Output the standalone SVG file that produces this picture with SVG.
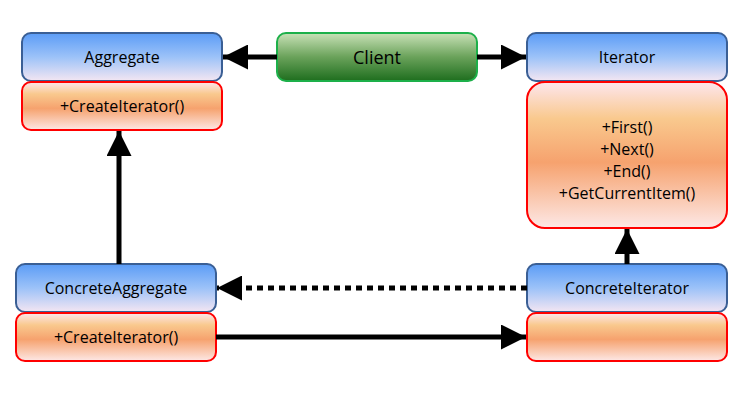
<svg xmlns="http://www.w3.org/2000/svg" width="740" height="401" viewBox="0 0 740 401">
<defs>
<linearGradient id="gb" x1="0" y1="0" x2="0" y2="1"><stop offset="0" stop-color="#5b9cf6"/><stop offset="0.5" stop-color="#9cc2f8"/><stop offset="1" stop-color="#f4e6f2"/></linearGradient>
<linearGradient id="go" x1="0" y1="0" x2="0" y2="1"><stop offset="0" stop-color="#fde6ee"/><stop offset="0.25" stop-color="#f9c98e"/><stop offset="0.55" stop-color="#f6a26e"/><stop offset="1" stop-color="#fde8e6"/></linearGradient>
<linearGradient id="gg" x1="0" y1="0" x2="0" y2="1"><stop offset="0" stop-color="#c9e2b8"/><stop offset="0.5" stop-color="#6aa25a"/><stop offset="1" stop-color="#1e6e1e"/></linearGradient>
<marker id="ah" viewBox="0 0 10 10" refX="10" refY="5" markerWidth="5" markerHeight="5" orient="auto" markerUnits="strokeWidth"><path d="M0,0L10,5L0,10z" fill="#000"/></marker>
</defs>
<style>
.h{fill:url(#gb);stroke:#3a5f95;stroke-width:2}
.m{fill:url(#go);stroke:#ff0000;stroke-width:2}
.c{fill:url(#gg);stroke:#1db04a;stroke-width:2}
text{font-family:"Open Sans","Noto Sans",sans-serif;font-size:16px;text-anchor:middle;fill:#000}
.l{stroke:#000;stroke-width:5;fill:none;marker-end:url(#ah)}
</style>
<rect width="740" height="401" fill="#fff"/>
<g id="aggregate"><rect class="h" x="22" y="33" width="200" height="48" rx="9"/><text x="122" y="63">Aggregate</text>
<rect class="m" x="22" y="82" width="200" height="48" rx="9"/><text x="122" y="112">+CreateIterator()</text></g>
<g id="client"><rect class="c" x="277" y="33" width="200" height="48" rx="9"/><text x="377" y="64" font-size="18" style="font-size:18px">Client</text></g>
<g id="iterator"><rect class="h" x="527" y="33" width="200" height="48" rx="9"/><text x="627" y="63">Iterator</text>
<rect class="m" x="527" y="82" width="200" height="146" rx="18"/><text x="627" y="133">+First()</text><text x="627" y="155">+Next()</text><text x="627" y="177">+End()</text><text x="627" y="199">+GetCurrentItem()</text></g>
<g id="concreteaggregate"><rect class="h" x="16" y="264" width="200" height="48" rx="9"/><text x="116" y="294">ConcreteAggregate</text>
<rect class="m" x="16" y="313" width="200" height="48" rx="9"/><text x="116" y="343">+CreateIterator()</text></g>
<g id="concreteiterator"><rect class="h" x="527" y="264" width="200" height="48" rx="9"/><text x="627" y="294">ConcreteIterator</text>
<rect class="m" x="527" y="313" width="200" height="48" rx="9"/></g>
<g id="connectors">
<line class="l" x1="277" y1="57" x2="223" y2="57"/>
<line class="l" x1="477" y1="57" x2="526" y2="57"/>
<line class="l" x1="119" y1="264" x2="119" y2="131"/>
<line class="l" x1="627" y1="264" x2="627" y2="229"/>
<line class="l" x1="527" y1="288" x2="217" y2="288" stroke-dasharray="6,5"/>
<line class="l" x1="216" y1="337" x2="526" y2="337"/>
</g>
</svg>
